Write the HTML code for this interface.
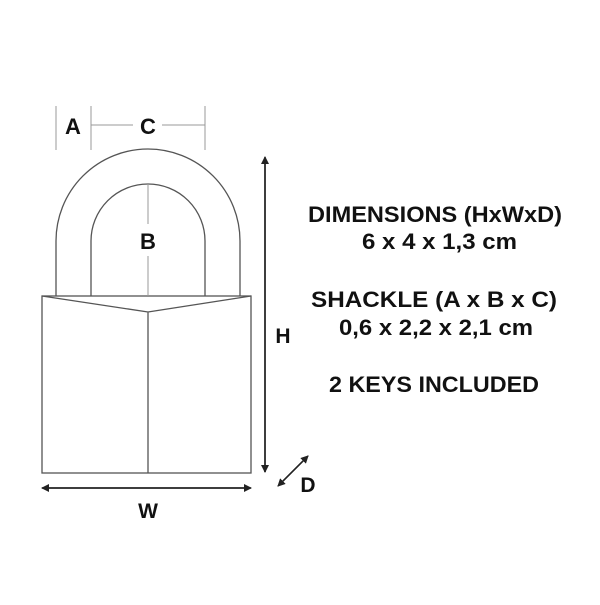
<!DOCTYPE html>
<html><head><style>body{margin:0;background:#fff}</style></head><body>
<svg width="600" height="600" viewBox="0 0 600 600" xmlns="http://www.w3.org/2000/svg">
<rect width="600" height="600" fill="#fff"/>
<defs><marker id="ah" markerWidth="8" markerHeight="8" refX="7" refY="4" orient="auto" markerUnits="userSpaceOnUse"><path d="M0,0 L8,4 L0,8 z" fill="#222"/></marker></defs>
<g fill="none" stroke="#555" stroke-width="1.3">
<path d="M56,296 L56,241 A92,92 0 0 1 240,241 L240,296"/>
<path d="M91,296 L91,241 A57,57 0 0 1 205,241 L205,296"/>
<rect x="42" y="296" width="209" height="177"/>
<path d="M42,296 L148,312 L251,296 M148,312 L148,473"/>
</g>
<g stroke="#999" stroke-width="1">
<line x1="56" y1="106" x2="56" y2="150"/>
<line x1="91" y1="106" x2="91" y2="150"/>
<line x1="205" y1="106" x2="205" y2="150"/>
<line x1="91" y1="125" x2="133" y2="125"/>
<line x1="162" y1="125" x2="205" y2="125"/>
<line x1="148" y1="184" x2="148" y2="224"/>
<line x1="148" y1="256" x2="148" y2="296"/>
</g>
<g stroke="#222" stroke-width="1.5" fill="none">
<line x1="265" y1="472" x2="265" y2="157" marker-end="url(#ah)"/>
<line x1="265" y1="160" x2="265" y2="472" marker-end="url(#ah)"/>
<line x1="45" y1="488" x2="251" y2="488" marker-end="url(#ah)"/>
<line x1="248" y1="488" x2="42" y2="488" marker-end="url(#ah)"/>
<line x1="280" y1="484" x2="308" y2="456" marker-end="url(#ah)"/>
<line x1="306" y1="458" x2="278" y2="486" marker-end="url(#ah)"/>
</g>
<g font-family="Liberation Sans, sans-serif" font-weight="bold" fill="#111" text-anchor="middle">
<text x="73" y="134" font-size="22">A</text>
<text x="148" y="134" font-size="22">C</text>
<text x="148" y="249" font-size="22">B</text>
<text x="283" y="343" font-size="21">H</text>
<text x="148" y="518" font-size="21">W</text>
<text x="308" y="492" font-size="21">D</text>
</g>
<g font-family="Liberation Sans, sans-serif" font-weight="bold" fill="#111" font-size="22">
<text x="308" y="222" textLength="254" lengthAdjust="spacingAndGlyphs">DIMENSIONS (HxWxD)</text>
<text x="362" y="249" textLength="155" lengthAdjust="spacingAndGlyphs">6 x 4 x 1,3 cm</text>
<text x="311" y="307" textLength="246" lengthAdjust="spacingAndGlyphs">SHACKLE (A x B x C)</text>
<text x="339" y="335" textLength="194" lengthAdjust="spacingAndGlyphs">0,6 x 2,2 x 2,1 cm</text>
<text x="329" y="392" textLength="210" lengthAdjust="spacingAndGlyphs">2 KEYS INCLUDED</text>
</g>
</svg>
</body></html>
